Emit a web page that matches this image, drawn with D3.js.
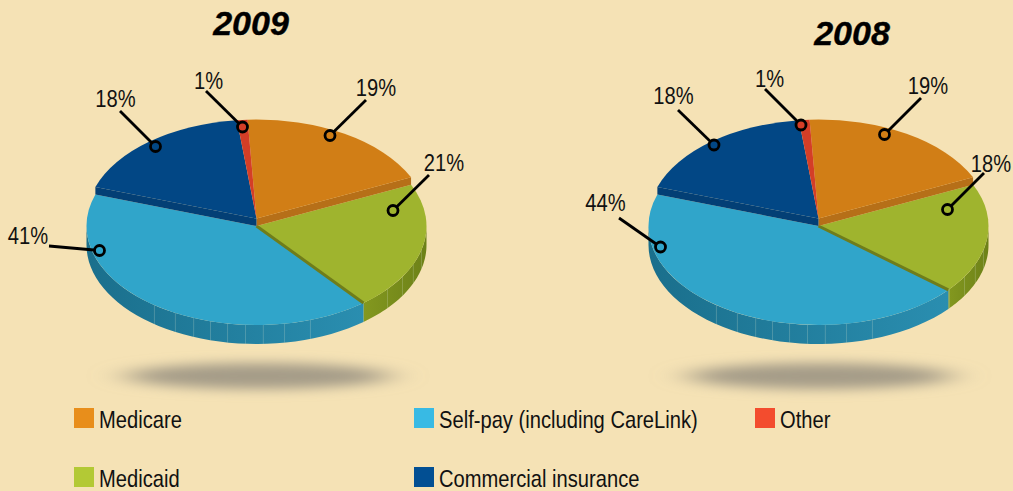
<!DOCTYPE html>
<html>
<head>
<meta charset="utf-8">
<script src="https://cdn.jsdelivr.net/npm/d3@7"></script>
<style>
    html, body { margin: 0; padding: 0; background: #f5e2b5; overflow: hidden; }
    text { font-family: "Liberation Sans", sans-serif; fill: #111; }
</style>
</head>
<body>
<div id="chart"></div>
<script>
// data
const categories = ['Medicare', 'Medicaid', 'Self-pay (including CareLink)', 'Commercial insurance', 'Other'];
const values2009 = [19, 21, 41, 18, 1];
const values2008 = [19, 18, 44, 18, 1];

// side wall rib angles, degrees clockwise from top
const ribAngles = [104, 112.7, 120.8, 129.6, 161.5, 170.5, 177.7, 183.7, 189.8, 195.7, 201.7, 208.5, 216.9];

const topColors = ['#d17e16', '#9fb42e', '#30a5ca', '#024785', '#d43e27'];
const legendColors = ['#e88e1b', '#b3c935', '#38bae4', '#024f93', '#f34c2e'];
const edgeColors = ['#b66f18', null, null, '#033f75', null];
const raised = [true, false, false, true, true];

const legendOrder = [
    {i: 0, col: 0, row: 0}, {i: 1, col: 0, row: 1},
    {i: 2, col: 1, row: 0}, {i: 3, col: 1, row: 1},
    {i: 4, col: 2, row: 0}
];

// callouts: label spot, line start, marker spot
const callouts2009 = [
    {text: '19%', tx: 376, ty: 96, lx: 366, ly: 100, mx: 330, my: 135.5},
    {text: '21%', tx: 444, ty: 171, lx: 429, ly: 175, mx: 393, my: 210.5},
    {text: '41%', tx: 28, ty: 244, lx: 49, ly: 246, mx: 99.5, my: 250.5},
    {text: '18%', tx: 115.5, ty: 107, lx: 120, ly: 111, mx: 155.5, my: 146.5},
    {text: '1%', tx: 208.5, ty: 89, lx: 206, ly: 91, mx: 242.5, my: 127}
];
const callouts2008 = [
    {text: '19%', tx: 928, ty: 94, lx: 921, ly: 98, mx: 884.5, my: 134.5},
    {text: '18%', tx: 991, ty: 172, lx: 984, ly: 173, mx: 947.5, my: 209.5},
    {text: '44%', tx: 605.5, ty: 211, lx: 619, ly: 218, mx: 660.5, my: 247},
    {text: '18%', tx: 673.5, ty: 104, lx: 678, ly: 110, mx: 714, my: 145},
    {text: '1%', tx: 769.5, ty: 87, lx: 765, ly: 89, mx: 801, my: 125}
];

const width = 1013, height = 491;
const rx = 170, ry = 99, baseY = 226, depth = 19, raise = 7.5;
const narrow = 0.84; // no narrow face installed, squeeze the regular one

const svg = d3.select('#chart').append('svg')
    .attr('width', width)
    .attr('height', height)
    .style('display', 'block');

const defs = svg.append('defs');
defs.append('filter').attr('id', 'shadowBlur')
    .attr('x', '-30%').attr('y', '-100%').attr('width', '160%').attr('height', '300%')
    .append('feGaussianBlur').attr('stdDeviation', '18 6');

const wallBlue = defs.append('linearGradient').attr('id', 'wallBlue');
wallBlue.append('stop').attr('offset', '0%').attr('stop-color', '#1a6f8c');
wallBlue.append('stop').attr('offset', '100%').attr('stop-color', '#2a8eb0');

const wallGreen = defs.append('linearGradient').attr('id', 'wallGreen');
wallGreen.append('stop').attr('offset', '0%').attr('stop-color', '#83981f');
wallGreen.append('stop').attr('offset', '100%').attr('stop-color', '#6d8118');

const wallFills = [null, 'url(#wallGreen)', 'url(#wallBlue)', null, null];

const deg = Math.PI / 180;
const pie = d3.pie().sort(null).startAngle(-3 * deg).endAngle(357 * deg);
const arc = d3.arc().innerRadius(0).outerRadius(rx);
const line = d3.line();

function drawPie(cx, title, titleX, titleY, values, callouts, shadowX) {
    const slices = pie(values);
    const xAt = a => cx + rx * Math.sin(a);
    const yAt = (a, cy) => cy - ry * Math.cos(a);
    const g = svg.append('g');

    // shadow under the pie
    g.append('ellipse')
        .attr('cx', shadowX).attr('cy', 376)
        .attr('rx', 132).attr('ry', 13)
        .attr('fill', '#a59c88')
        .attr('filter', 'url(#shadowBlur)');

    // front walls of the lower slices
    slices.forEach((s, i) => {
        if (!wallFills[i]) return;
        const from = Math.max(s.startAngle, 90 * deg);
        const to = Math.min(s.endAngle, 270 * deg);
        const steps = d3.range(0, 41).map(k => from + (to - from) * k / 40);
        const pts = steps.map(a => [xAt(a), yAt(a, baseY)])
            .concat(steps.slice().reverse().map(a => [xAt(a), yAt(a, baseY) + depth]));
        g.append('path').attr('d', line(pts) + 'Z').attr('fill', wallFills[i]);

        ribAngles.filter(a => a * deg > s.startAngle && a * deg < s.endAngle).forEach(a => {
            const x = xAt(a * deg), y = yAt(a * deg, baseY);
            g.append('line')
                .attr('x1', x).attr('x2', x)
                .attr('y1', y).attr('y2', y + depth)
                .attr('stroke', '#d9e6d0').attr('stroke-opacity', 0.3).attr('stroke-width', 0.8);
        });
    });

    // lower top faces
    slices.forEach((s, i) => {
        if (raised[i]) return;
        g.append('path')
            .attr('transform', `translate(${cx},${baseY}) scale(1,${ry / rx})`)
            .attr('d', arc(s))
            .attr('fill', topColors[i]);
    });

    // olive edge between medicaid and self-pay
    const cut = slices[2].startAngle;
    g.append('line')
        .attr('x1', cx).attr('y1', baseY)
        .attr('x2', xAt(cut)).attr('y2', yAt(cut, baseY))
        .attr('stroke', '#6f7d1b').attr('stroke-width', 3);

    // radial edges of the raised slices
    [[0, slices[0].endAngle], [3, slices[3].startAngle]].forEach(([i, a]) => {
        const x = xAt(a);
        const pts = [[cx, baseY - raise], [x, yAt(a, baseY - raise)], [x, yAt(a, baseY)], [cx, baseY]];
        g.append('path').attr('d', line(pts) + 'Z').attr('fill', edgeColors[i]);
    });

    // raised top faces
    slices.forEach((s, i) => {
        if (!raised[i]) return;
        g.append('path')
            .attr('transform', `translate(${cx},${baseY - raise}) scale(1,${ry / rx})`)
            .attr('d', arc(s))
            .attr('fill', topColors[i]);
    });

    // callouts
    callouts.forEach((c, i) => {
        g.append('line')
            .attr('x1', c.lx).attr('y1', c.ly)
            .attr('x2', c.mx).attr('y2', c.my)
            .attr('stroke', '#000').attr('stroke-width', 2.8);
        g.append('circle')
            .attr('cx', c.mx).attr('cy', c.my).attr('r', 5)
            .attr('fill', topColors[i])
            .attr('stroke', '#000').attr('stroke-width', 2.8);
        g.append('text')
            .attr('transform', `translate(${c.tx},${c.ty}) scale(${narrow},1)`)
            .attr('text-anchor', 'middle')
            .style('font-size', '24px')
            .text(c.text);
    });

    g.append('text')
        .attr('x', titleX).attr('y', titleY)
        .attr('text-anchor', 'middle')
        .style('font-size', '34px')
        .style('font-weight', 'bold')
        .style('font-style', 'italic')
        .style('fill', '#000')
        .style('stroke', '#000')
        .style('stroke-width', 0.4)
        .text(title);
}

drawPie(256.5, '2009', 251, 35, values2009, callouts2009, 258);
drawPie(818.5, '2008', 852, 45, values2008, callouts2008, 820);

// legend
const legendX = d3.scaleOrdinal().domain([0, 1, 2]).range([74, 414, 755]);
const legendY = d3.scaleOrdinal().domain([0, 1]).range([408, 467]);

const legend = svg.append('g').selectAll('g')
    .data(legendOrder)
    .enter()
    .append('g')
    .attr('transform', d => `translate(${legendX(d.col)},${legendY(d.row)})`);

legend.append('rect')
    .attr('width', 20)
    .attr('height', 20)
    .attr('fill', d => legendColors[d.i]);

legend.append('text')
    .attr('transform', `translate(25,20) scale(${narrow},1)`)
    .style('font-size', '24px')
    .text(d => categories[d.i]);
</script>
</body>
</html>
